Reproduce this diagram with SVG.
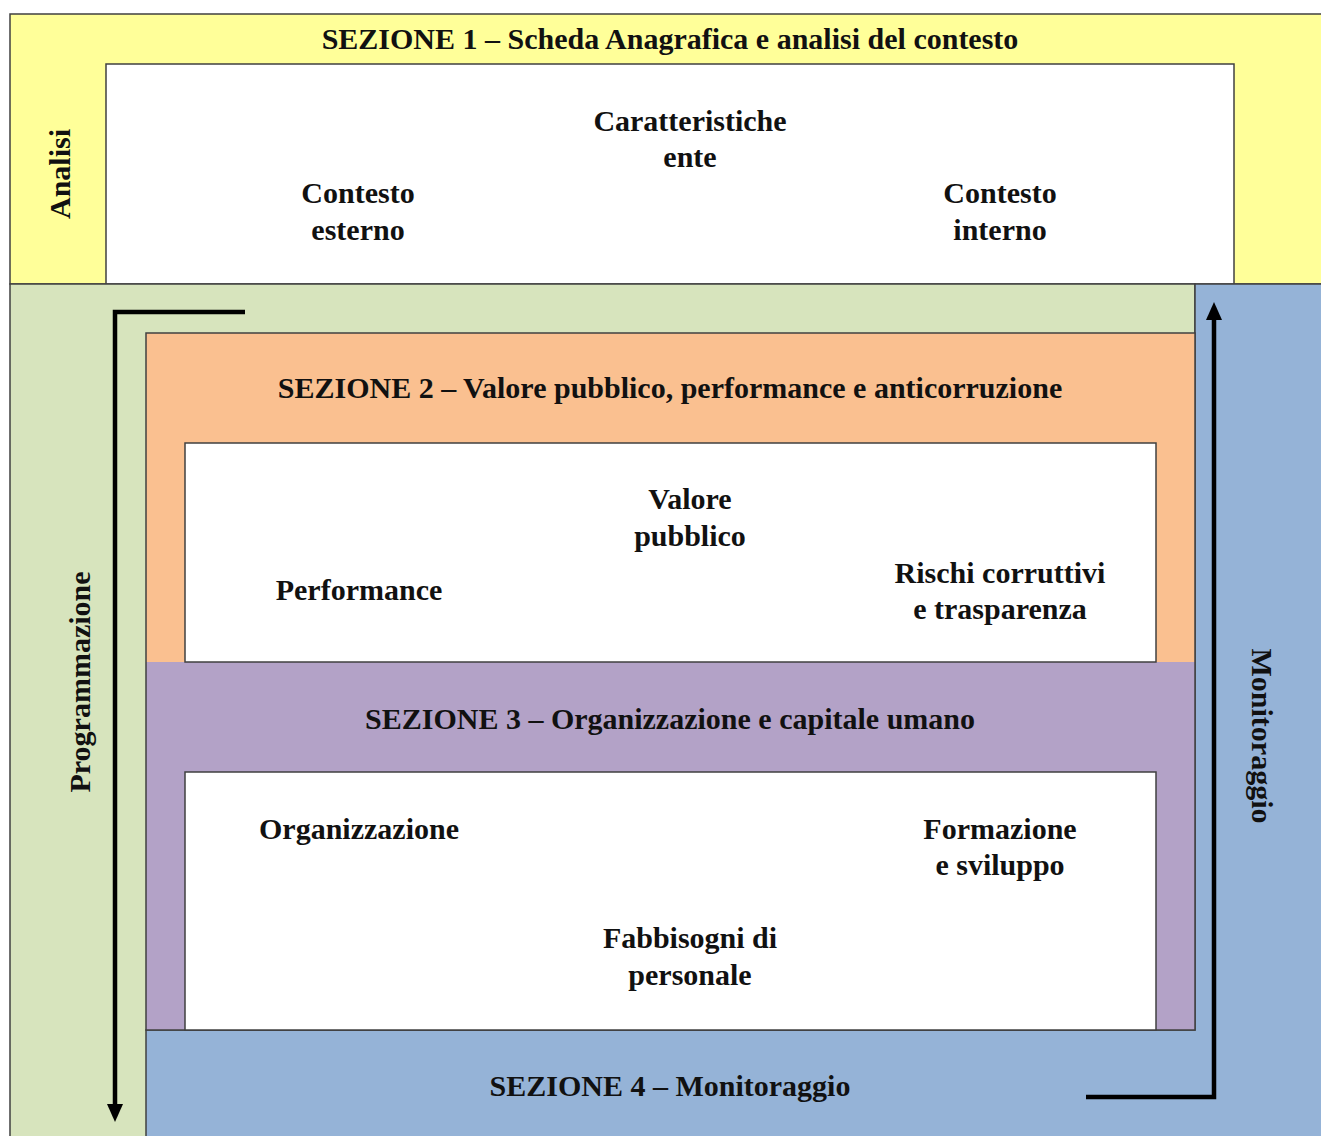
<svg xmlns="http://www.w3.org/2000/svg" width="1321" height="1136" viewBox="0 0 1321 1136">
<defs>
<style>
.box{stroke:#404040;stroke-width:1.5}
.t{font-family:"Liberation Serif","Times New Roman",serif;font-weight:bold;font-size:30px;fill:#111;text-anchor:middle}
.arrow{fill:none;stroke:#000;stroke-width:4.5}
</style>
<marker id="ah" markerUnits="userSpaceOnUse" viewBox="0 0 18 16" refX="2" refY="8" markerWidth="18" markerHeight="16" orient="auto">
<path d="M0,0 L18,8 L0,16 Z" fill="#000"/>
</marker>
</defs>
<rect width="1321" height="1136" fill="#fff"/>

<g id="sezione1">
<rect class="box" x="10" y="14" width="1320" height="270" fill="#FFFF99"/>
<rect class="box" x="106" y="64" width="1128" height="220" fill="#fff"/>
<text class="t" x="670" y="49">SEZIONE 1 – Scheda Anagrafica e analisi del contesto</text>
<text class="t" transform="translate(70,174) rotate(-90)">Analisi</text>
<text class="t" x="690" y="131">Caratteristiche</text>
<text class="t" x="690" y="167">ente</text>
<text class="t" x="358" y="203">Contesto</text>
<text class="t" x="358" y="240">esterno</text>
<text class="t" x="1000" y="203">Contesto</text>
<text class="t" x="1000" y="240">interno</text>
</g>

<g id="programmazione">
<rect class="box" x="10" y="284" width="1185" height="860" fill="#D7E4BD"/>
<text class="t" transform="translate(90,682) rotate(-90)">Programmazione</text>
</g>

<g id="monitoraggio">
<path class="box" d="M1195,284 H1325 V1140 H146 V1030 H1195 Z" fill="#95B3D7"/>
<text class="t" transform="translate(1252,736) rotate(90)">Monitoraggio</text>
</g>

<g id="sezione4">
<text class="t" x="670" y="1096">SEZIONE 4 – Monitoraggio</text>
</g>

<g id="sezione2">
<rect x="146" y="333" width="1049" height="329" fill="#FAC090"/>
<text class="t" x="670" y="398">SEZIONE 2 – Valore pubblico, performance e anticorruzione</text>
</g>

<g id="sezione3">
<rect x="146" y="662" width="1049" height="368" fill="#B3A2C7"/>
<text class="t" x="670" y="729">SEZIONE 3 – Organizzazione e capitale umano</text>
</g>
<rect class="box" x="146" y="333" width="1049" height="697" fill="none"/>

<g id="sezione2-contenuti">
<rect class="box" x="185" y="443" width="971" height="219" fill="#fff"/>
<text class="t" x="690" y="509">Valore</text>
<text class="t" x="690" y="546">pubblico</text>
<text class="t" x="359" y="600">Performance</text>
<text class="t" x="1000" y="583">Rischi corruttivi</text>
<text class="t" x="1000" y="619">e trasparenza</text>
</g>

<g id="sezione3-contenuti">
<rect class="box" x="185" y="772" width="971" height="258" fill="#fff"/>
<text class="t" x="359" y="839">Organizzazione</text>
<text class="t" x="1000" y="839">Formazione</text>
<text class="t" x="1000" y="875">e sviluppo</text>
<text class="t" x="690" y="948">Fabbisogni di</text>
<text class="t" x="690" y="985">personale</text>
</g>

<g id="connectors">
<path class="arrow" d="M245,312 H115 V1106" marker-end="url(#ah)"/>
<path class="arrow" d="M1086,1097 H1214 V318" marker-end="url(#ah)"/>
</g>
</svg>
